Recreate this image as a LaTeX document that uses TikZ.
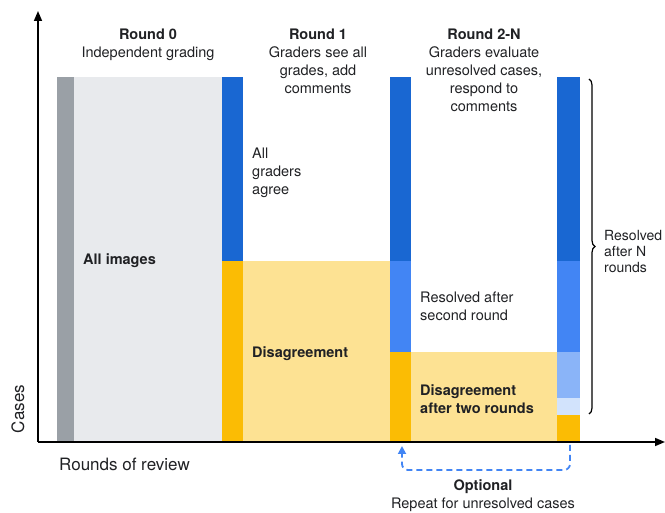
\documentclass[tikz,border=0pt]{standalone}
\usepackage{fontspec}
\setmainfont{TeX Gyre Heros}
\usetikzlibrary{arrows.meta,decorations.pathreplacing,calc}
\definecolor{dblue}{HTML}{1967D2}
\definecolor{mblue}{HTML}{4285F4}
\definecolor{lblue}{HTML}{8AB4F8}
\definecolor{vlblue}{HTML}{D2E3FC}
\definecolor{yel}{HTML}{FBBC04}
\definecolor{lyel}{HTML}{FDE293}
\definecolor{gbar}{HTML}{9AA0A6}
\definecolor{lgray}{HTML}{E8EAED}
\definecolor{ink}{HTML}{202124}
\begin{document}
\begin{tikzpicture}[x=1pt,y=-1pt,
  lbl/.style={font=\fontsize{14.5}{18}\selectfont, text=ink, inner sep=0pt, anchor=base},
  hdr/.style={lbl, align=center},
  side/.style={lbl, align=left, anchor=base west},
  axlbl/.style={font=\fontsize{17}{19}\selectfont, text=ink, inner sep=0pt},
  axis/.style={line width=1.5pt, -{Triangle[length=10pt,width=8pt]}},
  dashconn/.style={draw=mblue, line width=1.8pt, dash pattern=on 6pt off 4pt, rounded corners=6pt, -{Triangle[length=8pt,width=8pt]}}]
\useasboundingbox (0,0) rectangle (665,513);
% Round 0
\fill[gbar] (57,77) rectangle (74,442);
\fill[lgray] (74,77) rectangle (222,442);
% Round 1
\fill[dblue] (222,77) rectangle (243,261);
\fill[yel] (222,261) rectangle (243,442);
\fill[lyel] (243,261) rectangle (390,442);
% Round 2
\fill[dblue] (390,77) rectangle (411,261);
\fill[mblue] (390,261) rectangle (411,352);
\fill[yel] (390,352) rectangle (411,442);
\fill[lyel] (411,352) rectangle (557,442);
% Round N
\fill[dblue] (557,77) rectangle (580,261);
\fill[mblue] (557,261) rectangle (580,352);
\fill[lblue] (557,352) rectangle (580,398);
\fill[vlblue] (557,398) rectangle (580,415);
\fill[yel] (557,415) rectangle (580,442);
% headers (anchor = baseline of last line)
\node[hdr] (r0) at (148,58) {\textbf{Round 0}\\Independent grading};
\node[hdr] (r1) at (318,94) {\textbf{Round 1}\\Graders see all\\grades, add\\comments};
\node[hdr] (r2) at (484,112) {\textbf{Round 2-N}\\Graders evaluate\\unresolved cases,\\respond to\\comments};
% labels inside
\node[side] (allimg) at (83,265) {\textbf{All images}};
\node[side] (agree) at (252,195) {All\\graders\\agree};
\node[side] (dis) at (252,358) {\textbf{Disagreement}};
\node[side] (res2) at (420,321) {Resolved after\\second round};
\node[side] (dis2) at (420,414) {\textbf{Disagreement}\\\textbf{after two rounds}};
% brace
\draw[line width=1.2pt, decorate, decoration={brace, amplitude=6pt}] (589,79) -- (589,414) coordinate[pos=0.5] (bmid);
\node[side, font=\fontsize{14}{16}\selectfont] (resN) at (604,273) {Resolved\\after N\\rounds};
% axes
\coordinate (origin) at (38,442);
\coordinate (ytip) at (38,11);
\coordinate (xtip) at (665,442);
\draw[axis] (origin) -- (ytip);
\draw[axis] (origin) -- (xtip);
\node[axlbl, rotate=90, anchor=base] (cases) at (24,409) {Cases};
\node[axlbl, anchor=base west] (rounds) at (59,471) {Rounds of review};
% optional loop
\coordinate (dstart) at (570,445);
\coordinate (dend) at (402,446);
\draw[dashconn] (dstart) -- (570,470) -- (402,470) -- (dend);
\node[hdr] (opt) at (483,508.5) {\textbf{Optional}\\Repeat for unresolved cases};
\end{tikzpicture}
\end{document}
